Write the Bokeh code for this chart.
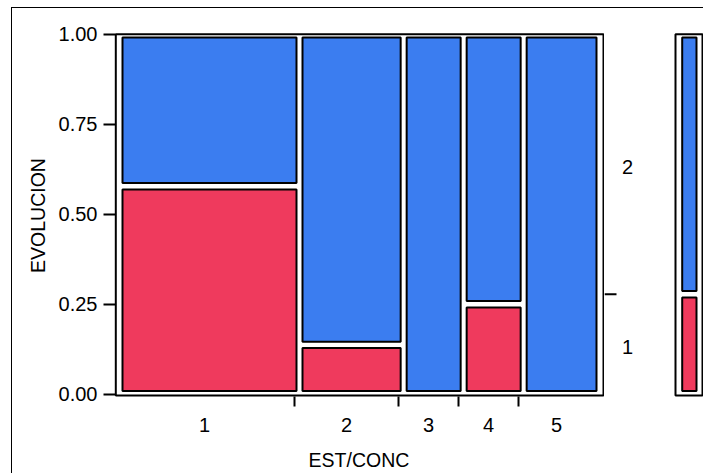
from bokeh.plotting import figure
from bokeh.layouts import row
from bokeh.models import (Range1d, LinearAxis, FixedTicker, ColumnDataSource)
from bokeh.core.properties import value
from bokeh.embed import file_html
from bokeh.resources import INLINE

# ---------------- data ----------------
categories = ["1", "2", "3", "4", "5"]              # EST/CONC levels
share = [0.375, 0.217, 0.125, 0.125, 0.158]         # column widths (share of rows)
prop_evol1 = [0.578, 0.137, 0.0, 0.25, 0.0]         # share with EVOLUCION = 1
evol_levels = ["1", "2"]
y_ticks = [0.0, 0.25, 0.5, 0.75, 1.0]

BLUE = "#3B7DF0"
RED = "#EF3A5D"
FONT = "Liberation Sans"

# ---------------- layout (pixel geometry) ----------------
W, H = 703, 473
SPLIT = 604                    # width of the main figure
X0, XS = 119.0, 480.0          # px of x=0 and px per unit
Y0, Y1 = 393.7, 33.9           # px of y=0 and y=1
YS = Y0 - Y1
FL, FT, FB = 113, 32, 398      # bokeh frame edges
GX, GY = 3.0, 3.2              # cell inset in px


def px2x(px):
    return (px - X0) / XS


def px2y(py):
    return (Y0 - py) / YS


def border_style(left):
    imgs = ["linear-gradient(#000,#000)"]
    pos = ["0px 7px"]
    size = ["100% 1px"]
    if left:
        imgs.append("linear-gradient(#000,#000)")
        pos = ["11px 7px", "11px 7px"]
        size.append("1px 100%")
    return {"background-color": "white", "background-image": ", ".join(imgs),
            "background-position": ", ".join(pos), "background-size": ", ".join(size),
            "background-repeat": "no-repeat"}


yr = Range1d(px2y(FB), px2y(FT))

p = figure(width=SPLIT, height=H, output_backend="svg", toolbar_location=None,
           x_range=Range1d(px2x(FL), px2x(SPLIT)), y_range=yr,
           min_border_left=FL, min_border_right=0, min_border_top=FT,
           min_border_bottom=H - FB, x_axis_location=None, y_axis_location=None)
q = figure(width=W - SPLIT, height=H, output_backend="svg", toolbar_location=None,
           x_range=Range1d(px2x(SPLIT), px2x(W)), y_range=yr,
           min_border_left=0, min_border_right=0, min_border_top=FT,
           min_border_bottom=H - FB, x_axis_location=None, y_axis_location=None)
for f, left in ((p, True), (q, False)):
    f.grid.visible = False
    f.outline_line_color = None
    f.background_fill_color = "white"
    f.border_fill_color = None
    f.styles = border_style(left)

gx = GX / XS
gy = GY / YS

# ---------------- mosaic cells ----------------
lefts, rights = [], []
acc = 0.0
for s in share:
    lefts.append(acc)
    acc += s
    rights.append(acc)

red = dict(left=[], right=[], bottom=[], top=[])
blue = dict(left=[], right=[], bottom=[], top=[])
for l, r, pr in zip(lefts, rights, prop_evol1):
    if pr > 0:
        red["left"].append(l + gx); red["right"].append(r - gx)
        red["bottom"].append(0 + gy); red["top"].append(pr - gy)
    blue["left"].append(l + gx); blue["right"].append(r - gx)
    blue["bottom"].append(pr + gy); blue["top"].append(1 - gy)

p.quad(source=ColumnDataSource(blue), left="left", right="right", bottom="bottom",
       top="top", fill_color=BLUE, line_color="black", line_width=2)
p.quad(source=ColumnDataSource(red), left="left", right="right", bottom="bottom",
       top="top", fill_color=RED, line_color="black", line_width=2)

# main frame
p.quad(left=[px2x(115.3)], right=[px2x(603)], bottom=[px2y(395)], top=[px2y(33.7)],
       fill_color=None, line_color="black", line_width=2)

# ---------------- marginal bar ----------------
margin1 = sum(s * pr for s, pr in zip(share, prop_evol1))
ml, mr = px2x(678.7), px2x(699)
q.quad(left=[ml + gx, ml + gx], right=[mr - gx, mr - gx],
       bottom=[0 + gy, margin1 + gy], top=[margin1 - gy, 1 - gy],
       fill_color=[RED, BLUE], line_color="black", line_width=2)
q.quad(left=[px2x(675)], right=[px2x(702)], bottom=[px2y(395)], top=[px2y(33.7)],
       fill_color=None, line_color="black", line_width=2)

# right-side level labels and tick
q.segment(x0=[px2x(SPLIT)], x1=[px2x(616)], y0=[margin1], y1=[margin1],
          line_color="black", line_width=2)
q.text(x=[px2x(627), px2x(627)], y=[margin1 / 2, (margin1 + 1) / 2], text=evol_levels,
       text_align="center", text_baseline="middle", y_offset=2.5,
       text_font=value(FONT), text_font_size="20px", text_color="black")

# ---------------- axes ----------------
yax = LinearAxis(ticker=FixedTicker(ticks=y_ticks, minor_ticks=[]))
yax.major_label_overrides = {t: f"{t:.2f}" for t in y_ticks}
yax.axis_line_color = None
yax.major_tick_line_color = "black"
yax.major_tick_line_width = 2
yax.major_tick_out = 10
yax.major_tick_in = 2
yax.minor_tick_line_color = None
yax.major_label_standoff = 6
yax.major_label_text_font = FONT
yax.major_label_text_font_size = "20px"
yax.major_label_text_color = "black"
yax.axis_label = "EVOLUCION"
yax.axis_label_text_font = FONT
yax.axis_label_text_font_size = "19.5px"
yax.axis_label_text_font_style = "normal"
yax.axis_label_text_color = "black"
yax.axis_label_standoff = 7
p.add_layout(yax, "left")

shift = 5 / XS
p.extra_x_ranges = {"xax": Range1d(px2x(FL) + shift, px2x(SPLIT) + shift)}
centers = [(l + r) / 2 for l, r in zip(lefts, rights)]
xax = LinearAxis(x_range_name="xax",
                 ticker=FixedTicker(ticks=centers, minor_ticks=rights[:-1]))
xax.major_label_overrides = {c: cat for c, cat in zip(centers, categories)}
xax.axis_line_color = None
xax.major_tick_line_color = None
xax.major_tick_out = 0
xax.major_tick_in = 0
xax.minor_tick_line_color = "black"
xax.minor_tick_line_width = 2
xax.minor_tick_out = 8
xax.minor_tick_in = 2
xax.major_label_standoff = 11
xax.major_label_text_font = FONT
xax.major_label_text_font_size = "20px"
xax.major_label_text_color = "black"
xax.axis_label = "EST/CONC"
xax.axis_label_text_font = FONT
xax.axis_label_text_font_size = "19.5px"
xax.axis_label_text_font_style = "normal"
xax.axis_label_text_color = "black"
xax.axis_label_standoff = 14
p.add_layout(xax, "below")

layout = row(p, q, spacing=0)
open("out.html", "w").write(file_html(layout, INLINE))
